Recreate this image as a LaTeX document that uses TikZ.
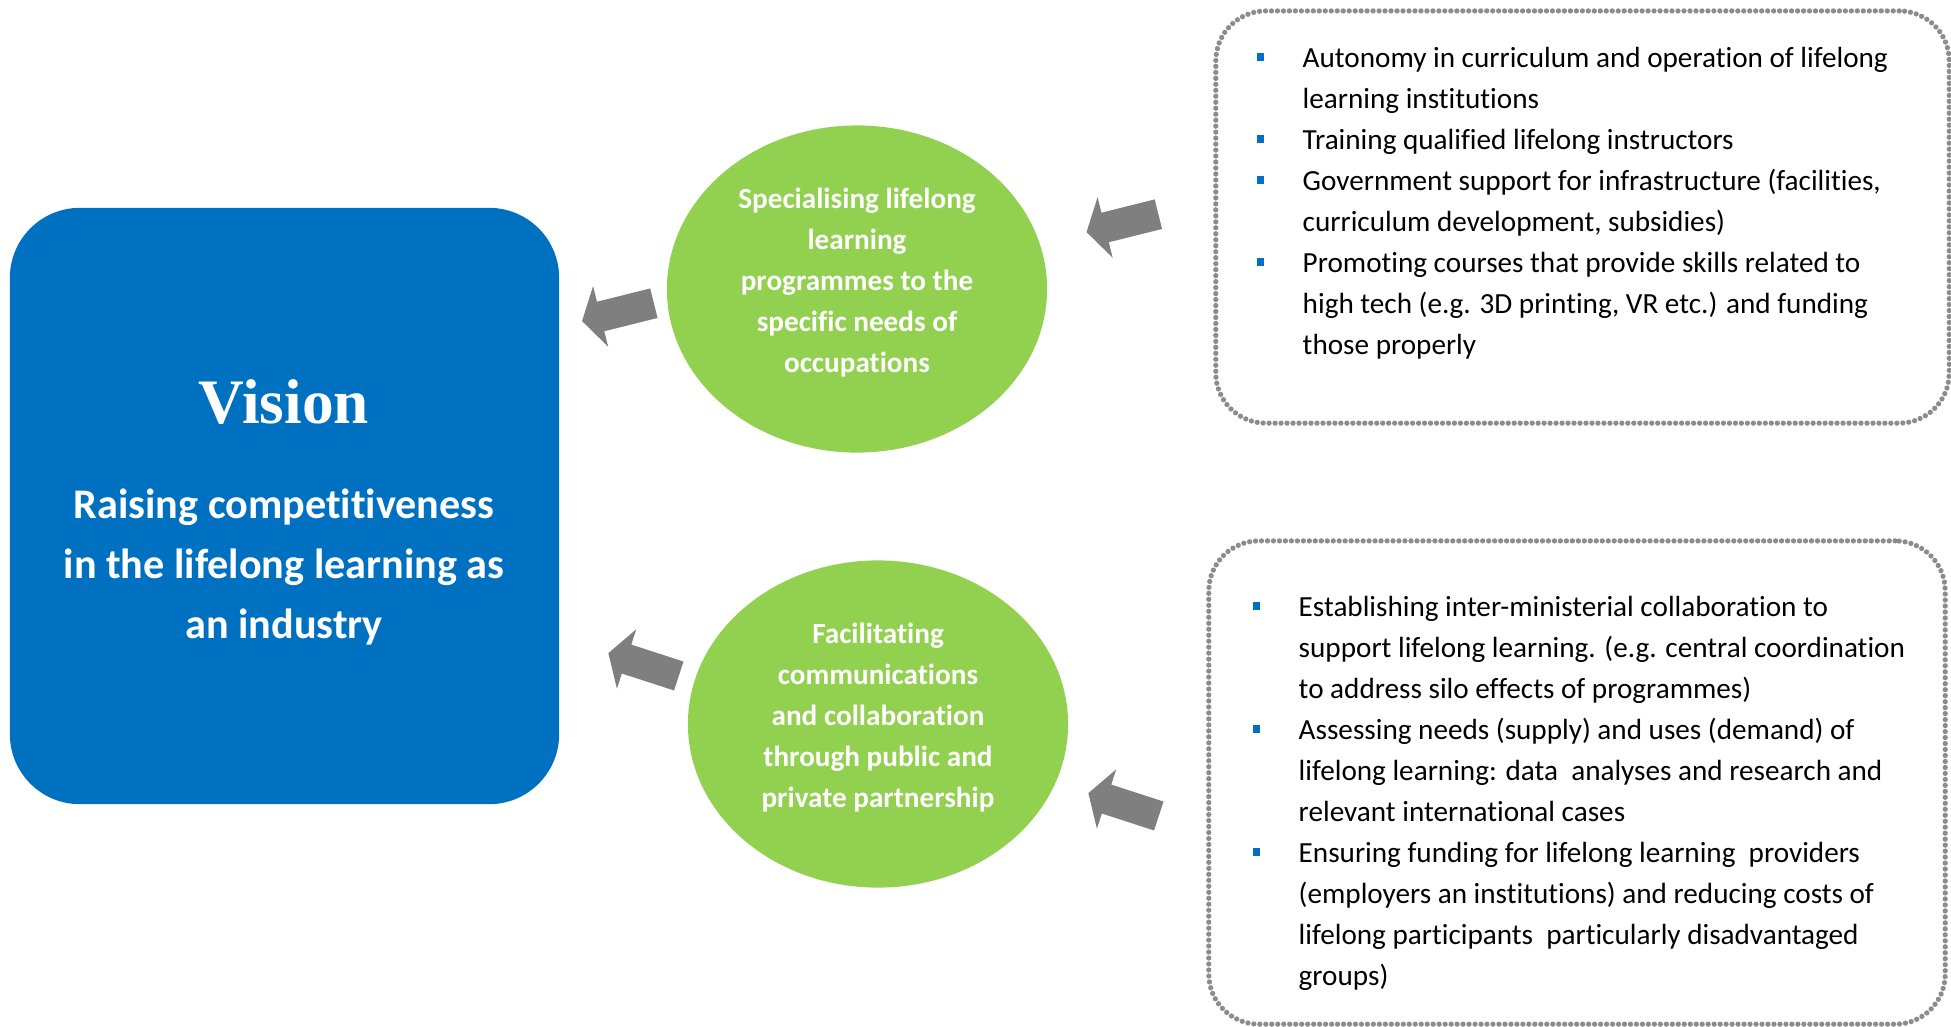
\documentclass[tikz,border=0pt]{standalone}
\usepackage{fontspec}
\setmainfont{Carlito}[Ligatures=NoCommon]
\newfontfamily\visionfont{Liberation Serif}
\usepackage{tikz}
\usetikzlibrary{shapes.geometric, shapes.arrows, positioning}

\definecolor{visionblue}{HTML}{0070C0}
\definecolor{leafgreen}{HTML}{92D050}
\definecolor{arrowgray}{HTML}{7F7F7F}
\definecolor{dotgray}{HTML}{8C8C8C}

\newcommand{\sqbul}{\makebox[0.46cm][l]{\textcolor{visionblue}{\raisebox{2pt}{\rule{2.1pt}{2.1pt}}}}}
\newcommand{\cont}{\hspace*{0.46cm}}

\begin{document}
\begin{tikzpicture}[
  x=0.01cm, y=-0.01cm,
  visionbox/.style={rectangle, fill=visionblue, rounded corners=0.7cm, minimum width=5.49cm, minimum height=5.96cm},
  goal/.style={ellipse, fill=leafgreen, minimum width=3.8cm, minimum height=3.27cm},
  goaltext/.style={align=center, text=white, font=\fontsize{8.3}{11.66}\selectfont\bfseries, inner sep=0pt},
  listbox/.style={rectangle, draw=dotgray, line width=1.5pt, dash pattern=on 0pt off 1.7pt, line cap=round, rounded corners=0.5cm},
  listtext/.style={anchor=west, align=left, inner sep=0pt, font=\fontsize{8.3}{11.66}\selectfont},
  blockarrow/.style={single arrow, fill=arrowgray, draw=none, inner xsep=0pt, inner ysep=0.145cm, minimum height=0.74cm,
    single arrow head extend=0.16cm, single arrow tip angle=117}
]
  \useasboundingbox (0,0) rectangle (1951,1026);

  % vision
  \node[visionbox] (vision) at (284.5,506) {};
  \node[text=white, font=\visionfont\fontsize{18}{20}\selectfont\bfseries] (visiontitle) at (284,402) {Vision};
  \node[text=white, align=center, font=\fontsize{12}{17.07}\selectfont\bfseries] (visiontext) at (284,567)
    {Raising competitiveness\\in the lifelong learning as\\an industry};

  % goals
  \node[goal] (special) at (857,289) {};
  \node[goaltext] (specialtext) at (857,283) {Specialising lifelong\\learning\\programmes to the\\specific needs of\\occupations};
  \node[goal] (partner) at (878,724) {};
  \node[goaltext] (partnertext) at (878,718) {Facilitating\\communications\\and collaboration\\through public and\\private partnership};

  % measures
  \node[listbox, minimum width=7.33cm, minimum height=4.12cm] (topbox) at (1582.5,217) {};
  \node[listtext] (toplist) at (1256,203.5) {%
    \sqbul Autonomy in curriculum and operation of lifelong\\
    \cont learning institutions\\
    \sqbul Training qualified lifelong instructors\\
    \sqbul Government support for infrastructure (facilities,\\
    \cont curriculum development, subsidies)\\
    \sqbul Promoting courses that provide skills related to\\
    \cont high tech (e.g. 3D printing, VR etc.) and funding\\
    \cont those properly};

  \node[listbox, minimum width=7.36cm, minimum height=4.83cm] (botbox) at (1577,782.5) {};
  \node[listtext] (botlist) at (1252,793.5) {%
    \sqbul Establishing inter-ministerial collaboration to\\
    \cont support lifelong learning. (e.g. central coordination\\
    \cont to address silo effects of programmes)\\
    \sqbul Assessing needs (supply) and uses (demand) of\\
    \cont lifelong learning: data~ analyses and research and\\
    \cont relevant international cases\\
    \sqbul Ensuring funding for lifelong learning~ providers\\
    \cont (employers an institutions) and reducing costs of\\
    \cont lifelong participants~ particularly disadvantaged\\
    \cont groups)};

  % arrows
  \node[blockarrow, rotate=194] (arrowtopr) at (1127,222) {};
  \node[blockarrow, rotate=194] (arrowtopl) at (622.5,311) {};
  \node[blockarrow, rotate=162] (arrowbotl) at (648,666) {};
  \node[blockarrow, rotate=162] (arrowbotr) at (1128,806) {};
\end{tikzpicture}
\end{document}
